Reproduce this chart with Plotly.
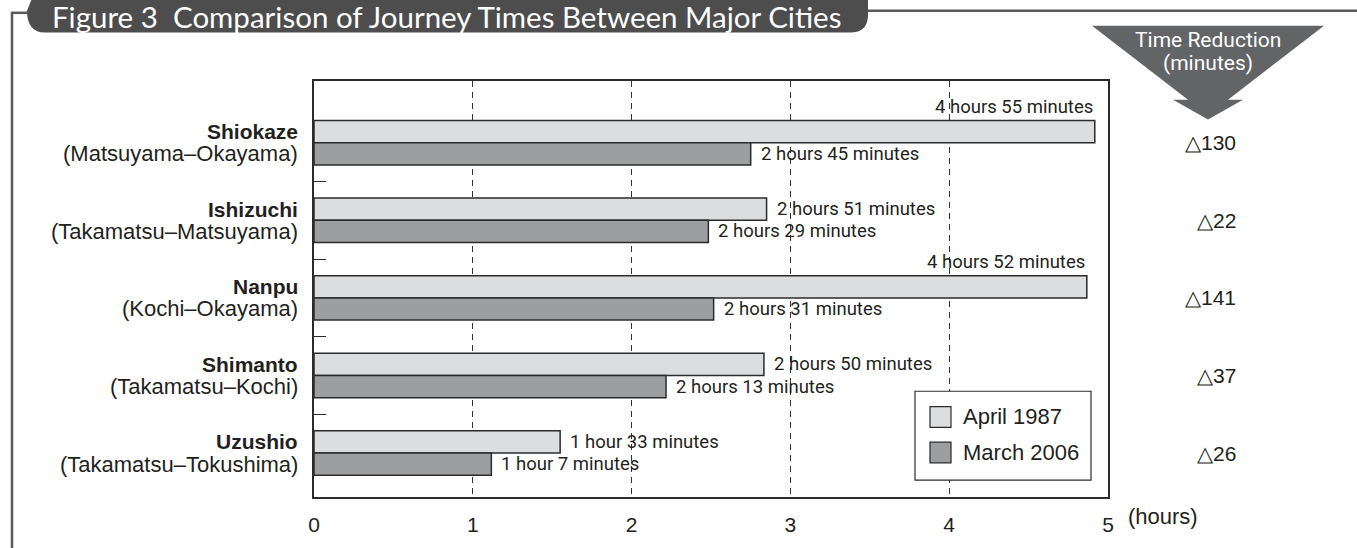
import plotly.graph_objects as go

# ---------------- data ----------------
trains = ["Shiokaze", "Ishizuchi", "Nanpu", "Shimanto", "Uzushio"]
routes = ["(Matsuyama–Okayama)", "(Takamatsu–Matsuyama)", "(Kochi–Okayama)",
          "(Takamatsu–Kochi)", "(Takamatsu–Tokushima)"]
minutes_1987 = [295, 171, 292, 170, 93]
minutes_2006 = [165, 149, 151, 133, 67]
reduction = [130, 22, 141, 37, 26]
series_names = ["April 1987", "March 2006"]
x_ticks = [0, 1, 2, 3, 4, 5]

# ---------------- layout constants ----------------
W, H = 1357, 548
L, R, T, B = 314, 1108, 81, 502
COL_LIGHT = "#dcdddf"
COL_DARK = "#9d9ea0"
EDGE = "#2b2b2b"
TXT = "#231f20"
TITLE_BG = "#4d4d4d"
SANS = "Liberation Sans"
COND = "Roboto"


def px(xp):
    return (xp - L) / (R - L)


def py(yp):
    return (B - yp) / (B - T)


def fmt(m):
    h, mm = divmod(m, 60)
    return f"{h} hour{'s' if h != 1 else ''} {mm} minutes"


hours_1987 = [m / 60 for m in minutes_1987]
hours_2006 = [m / 60 for m in minutes_2006]
ypos = list(range(len(trains)))
colors = [COL_LIGHT, COL_DARK]

fig = go.Figure()
for nm, vals, col in zip(series_names, [hours_1987, hours_2006], colors):
    fig.add_trace(go.Bar(y=ypos, x=vals, orientation="h", name=nm,
                         marker=dict(color=col, line=dict(color=EDGE, width=1.5)),
                         showlegend=False))

BW = 0.2865  # individual bar thickness in category units
annotations = []
for i in ypos:
    annotations.append(dict(x=px(300), xref="paper", y=i - BW / 2, yref="y",
                            text=f"<b>{trains[i]}</b>", showarrow=False,
                            xanchor="right", yanchor="middle",
                            font=dict(family=SANS, size=21, color=TXT)))
    annotations.append(dict(x=px(300), xref="paper", y=i + BW / 2, yref="y",
                            text=routes[i], showarrow=False,
                            xanchor="right", yanchor="middle",
                            font=dict(family=SANS, size=22, color=TXT)))
    if hours_1987[i] > 4.5:
        annotations.append(dict(x=hours_1987[i], y=i - BW, xref="x", yref="y",
                                text=fmt(minutes_1987[i]), showarrow=False,
                                xanchor="right", yanchor="bottom", yshift=1,
                                font=dict(family=COND, size=18.5, color=TXT)))
    else:
        annotations.append(dict(x=hours_1987[i], y=i - BW / 2, xref="x", yref="y",
                                text=fmt(minutes_1987[i]), showarrow=False,
                                xanchor="left", yanchor="middle", xshift=8,
                                font=dict(family=COND, size=18.5, color=TXT)))
    annotations.append(dict(x=hours_2006[i], y=i + BW / 2, xref="x", yref="y",
                            text=fmt(minutes_2006[i]), showarrow=False,
                            xanchor="left", yanchor="middle", xshift=8,
                            font=dict(family=COND, size=18.5, color=TXT)))
    annotations.append(dict(x=px(1238), xref="paper", y=i, yref="y",
                            text=f"△{reduction[i]}", showarrow=False,
                            xanchor="right", yanchor="middle",
                            font=dict(family=SANS, size=21, color=TXT)))

annotations.append(dict(x=px(1126), xref="paper", y=py(522), yref="paper",
                        text="(hours)", showarrow=False, xanchor="left", yanchor="middle",
                        font=dict(family=SANS, size=22, color=TXT)))
annotations.append(dict(x=px(50), xref="paper", y=py(16), yref="paper",
                        text="Figure 3  Comparison of Journey Times Between Major Cities",
                        showarrow=False, xanchor="left", yanchor="middle",
                        font=dict(family="Lato", size=29.5, color="white")))
annotations.append(dict(x=px(1208), xref="paper", y=py(40), yref="paper",
                        text="Time Reduction", showarrow=False, xanchor="center", yanchor="middle",
                        font=dict(family=COND, size=21, color="white")))
annotations.append(dict(x=px(1208), xref="paper", y=py(63), yref="paper",
                        text="(minutes)", showarrow=False, xanchor="center", yanchor="middle",
                        font=dict(family=COND, size=21, color="white")))

shapes = []
FRAME = "#5a5a5a"
tb = (f"M {px(33)},{py(-5)} L {px(27)},{py(10)} Q {px(27)},{py(32)} {px(45)},{py(32)} "
      f"L {px(850)},{py(32)} Q {px(868)},{py(32)} {px(868)},{py(14)} L {px(868)},{py(-5)} Z")
shapes.append(dict(type="path", path=tb, xref="paper", yref="paper",
                   fillcolor=TITLE_BG, line=dict(width=0), layer="above"))
shapes.append(dict(type="line", xref="paper", yref="paper", x0=px(868), x1=px(1360),
                   y0=py(10), y1=py(10), line=dict(color=FRAME, width=2.5)))
shapes.append(dict(type="line", xref="paper", yref="paper", x0=px(12), x1=px(28),
                   y0=py(12), y1=py(12), line=dict(color=FRAME, width=2.5)))
shapes.append(dict(type="line", xref="paper", yref="paper", x0=px(12), x1=px(12),
                   y0=py(11), y1=py(560), line=dict(color=FRAME, width=2.5)))
ar = (f"M {px(1092)},{py(25)} L {px(1324)},{py(25)} L {px(1228)},{py(100)} "
      f"L {px(1243)},{py(100)} L {px(1208)},{py(120)} L {px(1173)},{py(100)} "
      f"L {px(1188)},{py(100)} Z")
shapes.append(dict(type="path", path=ar, xref="paper", yref="paper",
                   fillcolor="#636466", line=dict(width=0), layer="below"))
# legend box (drawn by hand for large swatches)
shapes.append(dict(type="rect", xref="paper", yref="paper", x0=px(915), x1=px(1091),
                   y0=py(395), y1=py(485), fillcolor="white",
                   line=dict(color=EDGE, width=1.2), layer="above"))
for k, (nm, col) in enumerate(zip(series_names, colors)):
    yc = 421 + 36 * k
    shapes.append(dict(type="rect", xref="paper", yref="paper",
                       x0=px(930), x1=px(951), y0=py(yc - 10.5), y1=py(yc + 10.5),
                       fillcolor=col, line=dict(color=EDGE, width=1.2), layer="above"))
    annotations.append(dict(x=px(961), xref="paper", y=py(yc), yref="paper",
                            text=nm, showarrow=False, xanchor="left", yanchor="middle",
                            font=dict(family=SANS, size=22, color=TXT)))

fig.update_layout(
    width=W, height=H,
    margin=dict(l=L, r=W - R, t=T, b=H - B, pad=0),
    paper_bgcolor="white", plot_bgcolor="white",
    barmode="group", bargap=0.427, bargroupgap=0,
    showlegend=False,
    font=dict(family=SANS, color=TXT),
    xaxis=dict(range=[0, 5], tickvals=x_ticks, ticktext=[str(v) for v in x_ticks],
               showgrid=True, gridcolor="#333333", griddash="6px,5px", gridwidth=1,
               zeroline=False, showline=True, mirror=True, linecolor=EDGE, linewidth=1.5,
               ticks="", ticklabelstandoff=8,
               tickfont=dict(family=SANS, size=21, color=TXT), fixedrange=True),
    yaxis=dict(range=[4.567, -0.796], tickvals=[0.5, 1.5, 2.5, 3.5], showticklabels=False,
               ticks="inside", ticklen=12, tickcolor=EDGE, tickwidth=1,
               showgrid=False, zeroline=False, showline=True, mirror=True,
               linecolor=EDGE, linewidth=1.5, fixedrange=True),
    annotations=annotations, shapes=shapes,
)

fig.write_html("out.html")
